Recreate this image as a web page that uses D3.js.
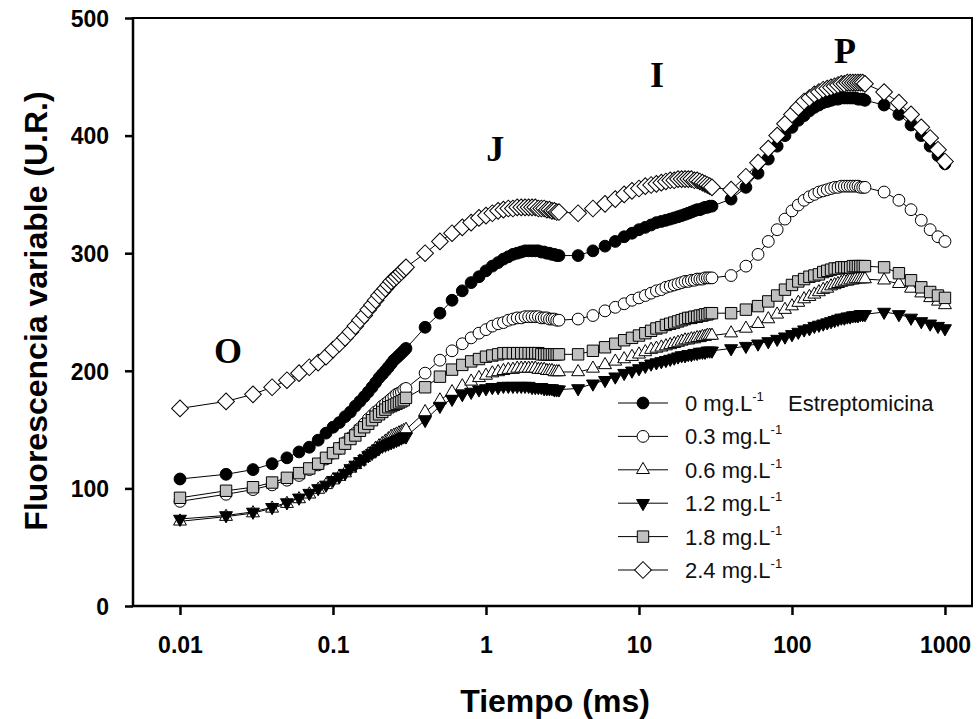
<!DOCTYPE html>
<html>
<head>
<meta charset="utf-8">
<script src="https://cdn.jsdelivr.net/npm/d3@7"></script>
<style>
  body { margin: 0; background: #fff; }
  svg { display: block; font-family: "Liberation Sans", Arial, sans-serif; }
</style>
</head>
<body>
<div id="chart"><svg></svg></div>
<script>
// Time points (ms), Handy-PEA style sampling
const timeMs = [
  0.01, 0.02, 0.03, 0.04, 0.05, 0.06, 0.07, 0.08, 0.09, 0.10,
  0.11, 0.12, 0.13, 0.14, 0.15, 0.16, 0.17, 0.18, 0.19, 0.20,
  0.21, 0.22, 0.23, 0.24, 0.25, 0.26, 0.27, 0.28, 0.29, 0.30,
  0.4, 0.5, 0.6, 0.7, 0.8, 0.9, 1.0, 1.1, 1.2, 1.3, 1.4, 1.5, 1.6, 1.7,
  1.8, 1.9, 2.0, 2.1, 2.2, 2.3, 2.4, 2.5, 2.6, 2.7, 2.8, 2.9, 3.0,
  4, 5, 6, 7, 8, 9, 10, 11, 12, 13, 14, 15, 16, 17, 18, 19, 20,
  21, 22, 23, 24, 25, 26, 27, 28, 29, 30,
  40, 50, 60, 70, 80, 90, 100, 110, 120, 130, 140, 150, 160, 170,
  180, 190, 200, 210, 220, 230, 240, 250, 260, 270, 280, 290, 300,
  400, 500, 600, 700, 800, 900, 1000
];

// Variable fluorescence (U.R.) per streptomycin dose
const fluor0 = [
  108, 112, 116, 121, 126, 131, 135, 141, 147, 152,
  156, 161, 165, 170, 174, 178, 182, 186, 190, 194,
  197, 200, 203, 206, 209, 211, 213, 215, 217, 219,
  237, 249, 260, 268, 275, 280, 285, 289, 292, 295, 297, 299, 300, 301,
  302, 302, 302, 302, 302, 301, 301, 300, 300, 299, 299, 298, 298,
  298, 302, 306, 310, 314, 317, 320, 322, 324, 326, 327, 328, 329, 330, 331, 332, 333,
  334, 335, 336, 337, 337, 338, 339, 339, 340, 340,
  346, 356, 368, 380, 391, 400, 407, 413, 417, 421, 424, 426, 428, 429,
  430, 431, 431, 432, 432, 432, 432, 432, 432, 431, 431, 431, 430,
  426, 418, 409, 400, 391, 383, 376
];
const fluor03 = [
  89, 95, 99, 103, 107, 111, 116, 120, 125, 130,
  134, 139, 143, 147, 151, 155, 159, 162, 165, 167,
  170, 172, 174, 176, 178, 180, 181, 182, 184, 185,
  198, 209, 217, 223, 228, 232, 235, 238, 240, 241, 243, 244, 245, 245,
  246, 246, 246, 246, 246, 245, 245, 245, 244, 244, 244, 243, 243,
  244, 247, 251, 254, 257, 260, 262, 264, 266, 268, 269, 271, 272, 273, 274, 275, 276,
  276, 277, 277, 278, 278, 278, 279, 279, 279, 279,
  281, 289, 299, 310, 320, 329, 336, 341, 345, 348, 350, 352, 353, 354,
  355, 356, 356, 357, 357, 357, 357, 357, 357, 357, 356, 356, 356,
  352, 345, 337, 328, 320, 314, 310
];
const fluor06 = [
  72, 76, 79, 83, 87, 91, 95, 99, 103, 107,
  110, 113, 117, 120, 123, 126, 129, 131, 134, 136,
  138, 140, 142, 144, 145, 146, 147, 148, 149, 150,
  165, 175, 182, 187, 191, 194, 196, 198, 199, 200, 201, 201, 202, 202,
  202, 202, 202, 202, 201, 201, 201, 200, 200, 200, 199, 199, 199,
  199, 202, 205, 208, 210, 212, 214, 216, 218, 219, 220, 221, 222, 223, 224, 225, 226,
  226, 227, 227, 228, 228, 229, 229, 230, 230, 230,
  232, 236, 240, 244, 248, 252, 255, 258, 261, 263, 265, 267, 269, 270,
  272, 273, 274, 275, 276, 276, 277, 277, 278, 278, 278, 278, 278,
  277, 274, 270, 266, 262, 259, 256
];
const fluor12 = [
  74, 77, 80, 84, 88, 92, 96, 100, 103, 107,
  110, 113, 117, 120, 123, 125, 128, 130, 132, 134,
  136, 137, 138, 139, 140, 141, 142, 143, 144, 144,
  158, 170, 176, 180, 182, 184, 185, 186, 186, 187, 187, 187, 187, 187,
  187, 187, 186, 186, 186, 186, 185, 185, 185, 185, 184, 184, 184,
  185, 189, 192, 195, 198, 200, 202, 204, 206, 207, 208, 209, 210, 211, 212, 213, 213,
  214, 214, 215, 215, 216, 216, 216, 217, 217, 217,
  219, 221, 223, 225, 227, 229, 231, 233, 235, 236, 238, 239, 240, 241,
  242, 243, 244, 245, 245, 246, 246, 247, 247, 247, 248, 248, 248,
  250, 248, 245, 242, 240, 238, 236
];
const fluor18 = [
  92, 98, 101, 105, 109, 113, 117, 121, 126, 130,
  134, 138, 142, 145, 149, 152, 155, 158, 161, 163,
  165, 167, 169, 170, 171, 172, 173, 174, 175, 177,
  186, 195, 201, 205, 208, 210, 212, 213, 214, 215, 215, 215, 215, 215,
  215, 215, 215, 215, 215, 214, 214, 214, 214, 214, 214, 214, 214,
  214, 217, 220, 223, 226, 228, 230, 232, 234, 236, 237, 239, 240, 241, 242, 243, 244,
  245, 245, 246, 246, 247, 247, 248, 248, 249, 249,
  249, 252, 255, 259, 264, 269, 273, 276, 278, 280, 281, 282, 284, 285,
  286, 287, 287, 288, 288, 288, 288, 289, 289, 289, 289, 289, 289,
  288, 283, 277, 271, 267, 264, 262
];
const fluor24 = [
  168, 174, 180, 186, 192, 198, 203, 207, 212, 218,
  223, 228, 233, 238, 243, 247, 252, 256, 260, 264,
  267, 270, 273, 276, 278, 280, 282, 284, 286, 288,
  300, 310, 317, 322, 326, 330, 332, 334, 336, 337, 338, 338, 339, 339,
  339, 339, 339, 339, 338, 338, 338, 337, 337, 336, 336, 335, 335,
  334, 338, 342, 346, 350, 353, 355, 357, 358, 359, 360, 361, 362, 362, 363, 363, 363,
  363, 363, 362, 362, 361, 360, 359, 358, 357, 356,
  354, 365, 377, 389, 400, 410, 418, 424, 429, 432, 435, 437, 439, 440,
  441, 442, 443, 444, 444, 445, 445, 445, 445, 445, 445, 445, 444,
  437, 428, 418, 407, 398, 388, 378
];

const doseLabels = ['0', '0.3', '0.6', '1.2', '1.8', '2.4'];
const xTickValues = [0.01, 0.1, 1, 10, 100, 1000];
const yTickValues = [0, 100, 200, 300, 400, 500];
const phaseLabels = ['O', 'J', 'I', 'P'];

const config = {
  width: 979,
  height: 719,
  plotLeft: 133, plotRight: 972, plotTop: 18, plotBottom: 606
};

// marker styles for each dose (same order as doseLabels)
const markerStyles = [
  { type: d3.symbolCircle, size: 110, fill: '#000', rotate: 0 },
  { type: d3.symbolCircle, size: 110, fill: '#fff', rotate: 0 },
  { type: d3.symbolTriangle, size: 72, fill: '#fff', rotate: 0 },
  { type: d3.symbolTriangle, size: 72, fill: '#000', rotate: 180 },
  { type: d3.symbolSquare, size: 130, fill: '#c0c0c0', rotate: 0 },
  { type: d3.symbolSquare, size: 140, fill: '#fff', rotate: 45 }
];

const seriesValues = [fluor0, fluor03, fluor06, fluor12, fluor18, fluor24];

const svg = d3.select('#chart svg')
  .attr('width', config.width)
  .attr('height', config.height);

const xScale = d3.scaleLog()
  .domain([0.00493, 1502])
  .range([config.plotLeft, config.plotRight]);
const yScale = d3.scaleLinear()
  .domain([0, 500])
  .range([config.plotBottom, config.plotTop]);

// frame (top and right)
svg.append('path')
  .attr('d', `M${config.plotLeft},${config.plotTop}H${config.plotRight}V${config.plotBottom}`)
  .attr('fill', 'none')
  .attr('stroke', '#000')
  .attr('stroke-width', 2);

// axes
const xAxis = d3.axisBottom(xScale).tickValues(xTickValues).tickSize(9).tickPadding(0)
  .tickFormat(d => d3.format('~g')(d));
const yAxis = d3.axisLeft(yScale).tickValues(yTickValues).tickSize(8).tickPadding(0);

const xAxisG = svg.append('g')
  .attr('transform', `translate(0,${config.plotBottom})`)
  .call(xAxis);
const yAxisG = svg.append('g')
  .attr('transform', `translate(${config.plotLeft},0)`)
  .call(yAxis);

[xAxisG, yAxisG].forEach(g => {
  g.select('.domain').remove();
  g.selectAll('line').attr('stroke', '#000').attr('stroke-width', 2.5);
  g.selectAll('text')
    .attr('fill', '#000')
    .style('font-size', '23px')
    .style('font-weight', 'bold')
    .style('font-family', '"Liberation Sans", Arial, sans-serif');
});
xAxisG.selectAll('text').attr('y', 47).attr('dy', null);
yAxisG.selectAll('text').attr('x', -24).attr('dy', '0.36em');

// axis lines
svg.append('path')
  .attr('d', `M${config.plotLeft},${config.plotTop - 1}V${config.plotBottom}H${config.plotRight + 1}`)
  .attr('fill', 'none')
  .attr('stroke', '#000')
  .attr('stroke-width', 2.5);

// axis titles
svg.append('text')
  .attr('x', 555)
  .attr('y', 712)
  .attr('text-anchor', 'middle')
  .style('font-size', '32px')
  .style('font-weight', 'bold')
  .text('Tiempo (ms)');

svg.append('text')
  .attr('transform', 'translate(47,311) rotate(-90)')
  .attr('text-anchor', 'middle')
  .style('font-size', '32px')
  .style('font-weight', 'bold')
  .text('Fluorescencia variable (U.R.)');

// series
const line = d3.line()
  .x((d, i) => xScale(timeMs[i]))
  .y(d => yScale(d));

const symbolPath = (s) => d3.symbol().type(s.type).size(s.size)();

seriesValues.forEach((values, k) => {
  const style = markerStyles[k];
  const g = svg.append('g').attr('class', `series s${k}`);
  g.append('path')
    .attr('d', line(values))
    .attr('fill', 'none')
    .attr('stroke', '#000')
    .attr('stroke-width', 1);
  g.selectAll('path.mark')
    .data(values)
    .join('path')
    .attr('class', 'mark')
    .attr('transform', (d, i) => `translate(${xScale(timeMs[i])},${yScale(d)}) rotate(${style.rotate})`)
    .attr('d', symbolPath(style))
    .attr('fill', style.fill)
    .attr('stroke', '#000')
    .attr('stroke-width', 1);
});

// phase letters O, J, I, P
const phasePos = [
  { t: 0.0206, v: 207 },
  { t: 1.15, v: 378 },
  { t: 13.1, v: 441 },
  { t: 222, v: 462 }
];
svg.selectAll('text.phase')
  .data(phaseLabels)
  .join('text')
  .attr('class', 'phase')
  .attr('x', (d, i) => xScale(phasePos[i].t))
  .attr('y', (d, i) => yScale(phasePos[i].v))
  .attr('text-anchor', 'middle')
  .style('font-family', '"Liberation Serif", "Times New Roman", serif')
  .style('font-weight', 'bold')
  .style('font-size', '36px')
  .text(d => d);

// legend
const legend = svg.append('g').attr('transform', 'translate(618,403)');
const rowH = 33.4;
doseLabels.forEach((lab, k) => {
  const style = markerStyles[k];
  const row = legend.append('g').attr('transform', `translate(0,${k * rowH})`);
  row.append('line')
    .attr('x1', 0).attr('x2', 50)
    .attr('stroke', '#000').attr('stroke-width', 1);
  row.append('path')
    .attr('transform', `translate(25,0) rotate(${style.rotate})`)
    .attr('d', symbolPath(style))
    .attr('fill', style.fill)
    .attr('stroke', '#000');
  const txt = row.append('text')
    .attr('x', 67)
    .attr('y', 8)
    .style('font-size', '22px')
    .attr('fill', '#111');
  txt.append('tspan').text(`${lab} mg.L`);
  txt.append('tspan').attr('dy', -10).style('font-size', '13px').text('-1');
  if (k === 0) {
    row.append('text')
      .attr('x', 170)
      .attr('y', 8)
      .style('font-size', '22px')
      .attr('fill', '#111')
      .text('Estreptomicina');
  }
});
</script>
</body>
</html>
